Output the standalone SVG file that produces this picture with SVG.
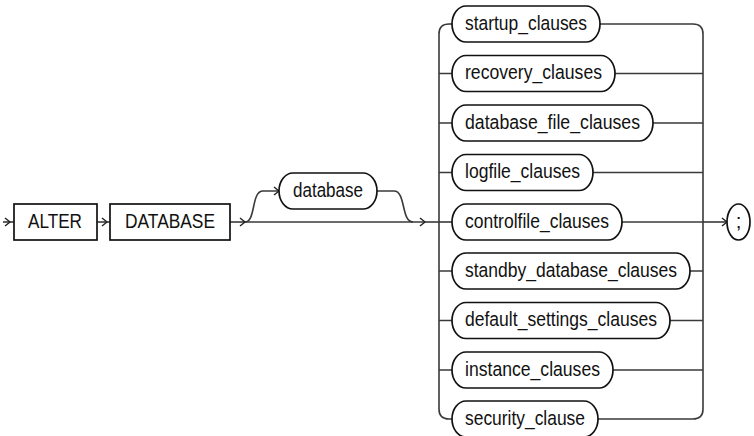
<svg xmlns="http://www.w3.org/2000/svg" width="754" height="436" viewBox="0 0 754 436">
<defs>
<marker id="chev" markerUnits="userSpaceOnUse" markerWidth="8" markerHeight="10" refX="6" refY="5" orient="auto" overflow="visible">
<path d="M1,1 L6,5 L1,9" fill="none" stroke="#222" stroke-width="1.4"/>
</marker>
<style>
.ln{fill:none;stroke:#3a3a3a;stroke-width:1.6}
.ar{marker-end:url(#chev)}
.box{fill:#fff;stroke:#111;stroke-width:1.7}
.pill{fill:#fff;stroke:#111;stroke-width:1.7}
.t{font-family:"Liberation Sans",Arial,sans-serif;font-size:20.5px;fill:#111}
</style>
</defs>
<rect width="754" height="436" fill="#fff"/>
<g id="connectors">
<path class="ln ar" d="M3,222 L10,222"/>
<path class="ln" d="M10,222 L14,222"/>
<path class="ln ar" d="M97,222 L107,222"/>
<path class="ln" d="M107,222 L110,222"/>
<path class="ln ar" d="M230,222 L245,222"/>
<path class="ln ar" d="M245,222 L425,222"/>
<path class="ln" d="M425,222 L452,222"/>
<path class="ln ar" d="M245,222 C256,222 251,191 263,191 L279,191"/>
<path class="ln" d="M377,191 L394,191 C406,191 401,222 413,222"/>
<path class="ln" d="M449,24 Q439,24 439,34 L439,409 Q439,419 449,419 L452,419"/>
<path class="ln" d="M600,24 L693,24 Q703,24 703,34 L703,409 Q703,419 693,419 L598,419"/>
<path class="ln" d="M449,24 L452,24"/>
<path class="ln" d="M439,73.5 L452,73.5 M615,73.5 L703,73.5"/>
<path class="ln" d="M439,123 L452,123 M653,123 L703,123"/>
<path class="ln" d="M439,172.5 L452,172.5 M593,172.5 L703,172.5"/>
<path class="ln" d="M622,222 L703,222"/>
<path class="ln ar" d="M703,222 L727,222"/>
<path class="ln" d="M439,271 L452,271 M690,271 L703,271"/>
<path class="ln" d="M439,320.5 L452,320.5 M670,320.5 L703,320.5"/>
<path class="ln" d="M439,370 L452,370 M613,370 L703,370"/>
</g>
<g id="alter"><rect class="box" x="14" y="204" width="83" height="36"/><text class="t" x="28" y="227.5" textLength="54" lengthAdjust="spacingAndGlyphs">ALTER</text></g>
<g id="database-kw"><rect class="box" x="110" y="204" width="120" height="36"/><text class="t" x="125" y="227.5" textLength="90" lengthAdjust="spacingAndGlyphs">DATABASE</text></g>
<g id="database"><rect class="pill" x="279" y="173" width="98" height="36" rx="14" ry="18"/><text class="t" x="293" y="196.7" textLength="70" lengthAdjust="spacingAndGlyphs">database</text></g>
<g id="startup_clauses"><rect class="pill" x="452" y="6" width="148" height="36" rx="14" ry="18"/><text class="t" x="465" y="29.7" textLength="122" lengthAdjust="spacingAndGlyphs">startup_clauses</text></g>
<g id="recovery_clauses"><rect class="pill" x="452" y="55.5" width="163" height="36" rx="14" ry="18"/><text class="t" x="465" y="79.2" textLength="137" lengthAdjust="spacingAndGlyphs">recovery_clauses</text></g>
<g id="database_file_clauses"><rect class="pill" x="452" y="105" width="201" height="36" rx="14" ry="18"/><text class="t" x="465" y="128.7" textLength="175" lengthAdjust="spacingAndGlyphs">database_file_clauses</text></g>
<g id="logfile_clauses"><rect class="pill" x="452" y="154.5" width="141" height="36" rx="14" ry="18"/><text class="t" x="465" y="178.2" textLength="115" lengthAdjust="spacingAndGlyphs">logfile_clauses</text></g>
<g id="controlfile_clauses"><rect class="pill" x="452" y="204" width="170" height="36" rx="14" ry="18"/><text class="t" x="465" y="227.7" textLength="144" lengthAdjust="spacingAndGlyphs">controlfile_clauses</text></g>
<g id="standby_database_clauses"><rect class="pill" x="452" y="253" width="238" height="36" rx="14" ry="18"/><text class="t" x="465" y="276.7" textLength="212" lengthAdjust="spacingAndGlyphs">standby_database_clauses</text></g>
<g id="default_settings_clauses"><rect class="pill" x="452" y="302.5" width="218" height="36" rx="14" ry="18"/><text class="t" x="465" y="326.2" textLength="192" lengthAdjust="spacingAndGlyphs">default_settings_clauses</text></g>
<g id="instance_clauses"><rect class="pill" x="452" y="352" width="161" height="36" rx="14" ry="18"/><text class="t" x="465" y="375.7" textLength="135" lengthAdjust="spacingAndGlyphs">instance_clauses</text></g>
<g id="security_clause"><rect class="pill" x="452" y="401" width="146" height="36" rx="14" ry="18"/><text class="t" x="465" y="424.7" textLength="120" lengthAdjust="spacingAndGlyphs">security_clause</text></g>
<g id="semicolon"><rect class="pill" x="727" y="204" width="23" height="36" rx="11.5" ry="18"/><text class="t" x="738.5" y="228" text-anchor="middle">;</text></g>
</svg>
